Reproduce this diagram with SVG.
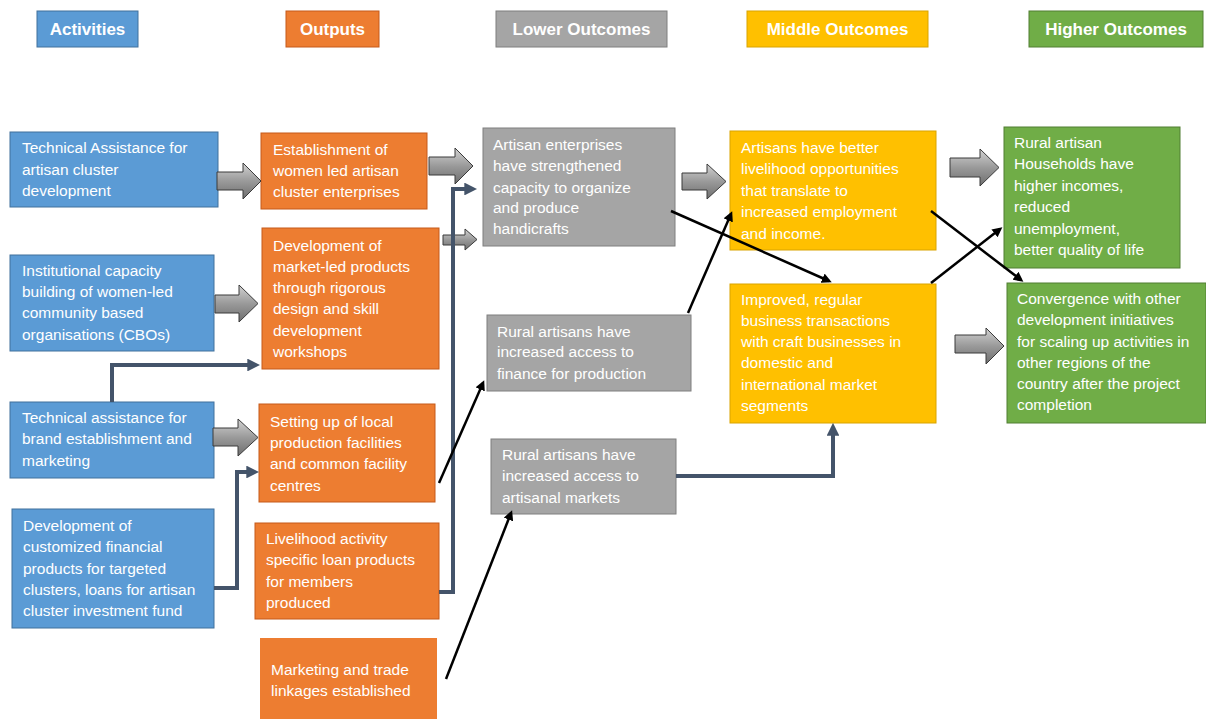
<svg xmlns="http://www.w3.org/2000/svg" width="1206" height="719" viewBox="0 0 1206 719">
<style>
.hdr{font-family:"Liberation Sans",Arial,sans-serif;font-weight:bold;font-size:17px;fill:#fff;text-anchor:middle}
.t{font-family:"Liberation Sans",Arial,sans-serif;font-size:15.5px;fill:#fff}
.blue{fill:#5B9BD5;stroke:#41719C;stroke-width:1}
.orange{fill:#ED7D31;stroke:#C55A1A;stroke-width:1}
.gray{fill:#A5A5A5;stroke:#7F7F7F;stroke-width:1}
.gold{fill:#FFC000;stroke:#D9A400;stroke-width:1}
.green{fill:#70AD47;stroke:#507E32;stroke-width:1}
.blk{fill:url(#bg);stroke:#3A3A3A;stroke-width:1}
.slate{fill:none;stroke:#44546A;stroke-width:4;marker-end:url(#ms)}
.thin{fill:none;stroke:#000;stroke-width:2.5;marker-end:url(#mb)}
</style>
<defs>
<linearGradient id="bg" x1="0" y1="0" x2="0" y2="1">
<stop offset="0" stop-color="#D2D2D2"/>
<stop offset="0.5" stop-color="#9A9A9A"/>
<stop offset="1" stop-color="#6E6E6E"/>
</linearGradient>
<marker id="ms" viewBox="0 0 10 10" refX="6" refY="5" markerWidth="3.2" markerHeight="3.2" orient="auto" markerUnits="strokeWidth">
<path d="M0,0 L10,5 L0,10 z" fill="#44546A"/>
</marker>
<marker id="mb" viewBox="0 0 10 10" refX="7" refY="5" markerWidth="4" markerHeight="4" orient="auto" markerUnits="strokeWidth">
<path d="M0,0 L10,5 L0,10 z" fill="#000"/>
</marker>
</defs>
<rect width="1206" height="719" fill="#fff"/>

<g id="headers">
<g id="h-activities"><rect class="blue" x="37" y="11" width="101" height="36"/><text class="hdr" x="87.5" y="35">Activities</text></g>
<g id="h-outputs"><rect class="orange" x="286" y="11" width="93" height="36"/><text class="hdr" x="332.5" y="35">Outputs</text></g>
<g id="h-lower"><rect class="gray" x="496" y="11" width="171" height="36"/><text class="hdr" x="581.5" y="35">Lower Outcomes</text></g>
<g id="h-middle"><rect class="gold" x="747" y="11" width="181" height="36"/><text class="hdr" x="837.5" y="35">Middle Outcomes</text></g>
<g id="h-higher"><rect class="green" x="1029" y="11" width="174" height="36"/><text class="hdr" x="1116" y="35">Higher Outcomes</text></g>
</g>

<g id="a1"><rect class="blue" x="10" y="132" width="208" height="75"/>
<text class="t"><tspan x="22" y="153">Technical Assistance for</tspan><tspan x="22" y="175">artisan cluster</tspan><tspan x="22" y="196">development</tspan></text></g>
<g id="a2"><rect class="blue" x="10" y="255" width="204" height="96"/>
<text class="t"><tspan x="22" y="276">Institutional capacity</tspan><tspan x="22" y="297">building of women-led</tspan><tspan x="22" y="318">community based</tspan><tspan x="22" y="340">organisations (CBOs)</tspan></text></g>
<g id="a3"><rect class="blue" x="10" y="402" width="204" height="76"/>
<text class="t"><tspan x="22" y="423">Technical assistance for</tspan><tspan x="22" y="444">brand establishment and</tspan><tspan x="22" y="466">marketing</tspan></text></g>
<g id="a4"><rect class="blue" x="12" y="509" width="202" height="119"/>
<text class="t"><tspan x="23" y="531">Development of</tspan><tspan x="23" y="552">customized financial</tspan><tspan x="23" y="574">products for targeted</tspan><tspan x="23" y="595">clusters, loans for artisan</tspan><tspan x="23" y="616">cluster investment fund</tspan></text></g>

<g id="o1"><rect class="orange" x="261" y="133" width="166" height="76"/>
<text class="t"><tspan x="273" y="155">Establishment of</tspan><tspan x="273" y="176">women led artisan</tspan><tspan x="273" y="197">cluster enterprises</tspan></text></g>
<g id="o2"><rect class="orange" x="262" y="228" width="177" height="141"/>
<text class="t"><tspan x="273" y="251">Development of</tspan><tspan x="273" y="272">market-led products</tspan><tspan x="273" y="293">through rigorous</tspan><tspan x="273" y="314">design and skill</tspan><tspan x="273" y="336">development</tspan><tspan x="273" y="357">workshops</tspan></text></g>
<g id="o3"><rect class="orange" x="259" y="404" width="176" height="98"/>
<text class="t"><tspan x="270" y="427">Setting up of local</tspan><tspan x="270" y="448">production facilities</tspan><tspan x="270" y="469">and common facility</tspan><tspan x="270" y="491">centres</tspan></text></g>
<g id="o4"><rect class="orange" x="255" y="523" width="184" height="96"/>
<text class="t"><tspan x="266" y="544">Livelihood activity</tspan><tspan x="266" y="565">specific loan products</tspan><tspan x="266" y="587">for members</tspan><tspan x="266" y="608">produced</tspan></text></g>
<g id="o5"><rect x="260" y="638" width="177" height="81" fill="#ED7D31"/>
<text class="t"><tspan x="271" y="675">Marketing and trade</tspan><tspan x="271" y="696">linkages established</tspan></text></g>

<g id="l1"><rect class="gray" x="483" y="128" width="192" height="118"/>
<text class="t"><tspan x="493" y="150">Artisan enterprises</tspan><tspan x="493" y="171">have strengthened</tspan><tspan x="493" y="193">capacity to organize</tspan><tspan x="493" y="213">and produce</tspan><tspan x="493" y="234">handicrafts</tspan></text></g>
<g id="l2"><rect class="gray" x="487" y="315" width="204" height="76"/>
<text class="t"><tspan x="497" y="337">Rural artisans have</tspan><tspan x="497" y="357">increased access to</tspan><tspan x="497" y="379">finance for production</tspan></text></g>
<g id="l3"><rect class="gray" x="491" y="439" width="185" height="75"/>
<text class="t"><tspan x="502" y="460">Rural artisans have</tspan><tspan x="502" y="481">increased access to</tspan><tspan x="502" y="503">artisanal markets</tspan></text></g>

<g id="m1"><rect class="gold" x="730" y="131" width="206" height="119"/>
<text class="t"><tspan x="741" y="153">Artisans have better</tspan><tspan x="741" y="174">livelihood opportunities</tspan><tspan x="741" y="196">that translate to</tspan><tspan x="741" y="217">increased employment</tspan><tspan x="741" y="239">and income.</tspan></text></g>
<g id="m2"><rect class="gold" x="730" y="284" width="206" height="139"/>
<text class="t"><tspan x="741" y="305">Improved, regular</tspan><tspan x="741" y="326">business transactions</tspan><tspan x="741" y="347">with craft businesses in</tspan><tspan x="741" y="368">domestic and</tspan><tspan x="741" y="390">international market</tspan><tspan x="741" y="411">segments</tspan></text></g>

<g id="hh1"><rect class="green" x="1004" y="127" width="176" height="141"/>
<text class="t"><tspan x="1014" y="148">Rural artisan</tspan><tspan x="1014" y="169">Households have</tspan><tspan x="1014" y="191">higher incomes,</tspan><tspan x="1014" y="212">reduced</tspan><tspan x="1014" y="234">unemployment,</tspan><tspan x="1014" y="255">better quality of life</tspan></text></g>
<g id="hh2"><rect class="green" x="1007" y="283" width="199" height="140"/>
<text class="t"><tspan x="1017" y="304">Convergence with other</tspan><tspan x="1017" y="325">development initiatives</tspan><tspan x="1017" y="347">for scaling up activities in</tspan><tspan x="1017" y="368">other regions of the</tspan><tspan x="1017" y="389">country after the project</tspan><tspan x="1017" y="410">completion</tspan></text></g>

<g id="connectors">
<path class="blk" d="M217,172 H243 V163 L261,181 L243,199 V190 H217 Z"/>
<path class="blk" d="M429,157 H455 V148 L473,166 L455,184 V175 H429 Z"/>
<path class="blk" d="M443,235 H465 V229 L477,239.5 L465,250 V245 H443 Z"/>
<path class="blk" d="M215,295 H239 V285 L258,303.5 L239,322 V313 H215 Z"/>
<path class="blk" d="M213,428 H238 V419 L258,437.5 L238,456 V446 H213 Z"/>
<path class="blk" d="M682,173 H707 V164 L726,181.5 L707,199 V190 H682 Z"/>
<path class="blk" d="M950,158 H980 V149 L999,167.5 L980,186 V177 H950 Z"/>
<path class="blk" d="M955,335 H986 V328 L1004,346 L986,364 V353 H955 Z"/>

<path class="slate" d="M112,402 V365 H255"/>
<path class="slate" d="M214,588 H237 V472 H254"/>
<path class="slate" d="M439,592 H453 V189 H472"/>
<path class="slate" d="M676,476 H833 V428"/>

<path class="thin" d="M439,483 L483,383"/>
<path class="thin" d="M446,679 L511,513"/>
<path class="thin" d="M688,313 L731,214"/>
<path class="thin" d="M671,211 L829,281"/>
<path class="thin" d="M931,283 L1000,229"/>
<path class="thin" d="M931,211 L1021,280"/>
</g>
</svg>
